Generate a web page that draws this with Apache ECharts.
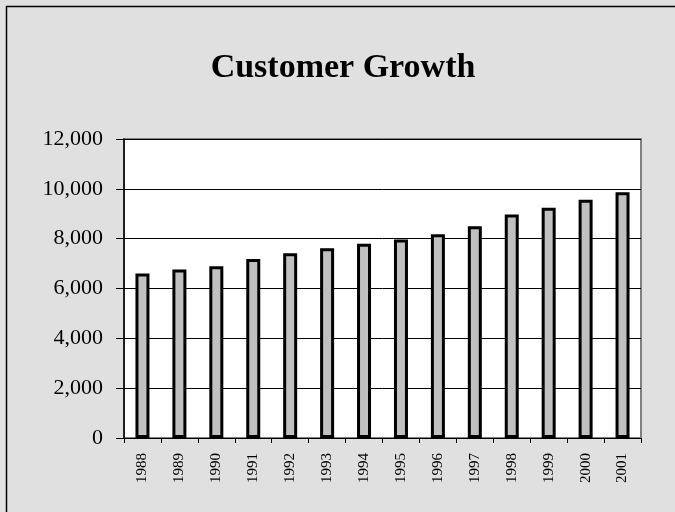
<!DOCTYPE html>
<html>
<head>
<meta charset="utf-8">
<script src="https://cdn.jsdelivr.net/npm/echarts@6/dist/echarts.min.js"></script>
<style>
  html, body { margin: 0; padding: 0; background: #e0e0e0; }
  #chart { width: 675px; height: 512px; }
</style>
</head>
<body>
<div id="chart"></div>
<script>
const years = ["1988", "1989", "1990", "1991", "1992", "1993", "1994",
  "1995", "1996", "1997", "1998", "1999", "2000", "2001"];
const customers = [6600, 6760, 6890, 7180, 7410, 7620, 7800,
  7970, 8180, 8500, 8970, 9240, 9560, 9860];
const yMax = 12000;
const yStep = 2000;

const serif = "'Liberation Serif', 'Times New Roman', serif";

const chart = echarts.init(document.getElementById("chart"));

chart.setOption({
  backgroundColor: "#e0e0e0",
  animation: false,
  title: {
    text: "Customer Growth",
    left: 338,
    top: 46,
    textAlign: "center",
    textStyle: { fontFamily: serif, fontSize: 34, fontWeight: "bold", color: "#000" }
  },
  graphic: [
    {
      type: "rect",
      shape: { x: 6.5, y: 6.5, width: 700, height: 600 },
      style: { fill: null, stroke: "#000", lineWidth: 1.5 },
      silent: true
    }
  ],
  grid: {
    left: 124,
    right: 34,
    top: 139,
    bottom: 74,
    show: true,
    backgroundColor: "#fff",
    borderColor: "#808080",
    borderWidth: 2
  },
  xAxis: {
    type: "category",
    data: years,
    axisLine: { lineStyle: { color: "#000", width: 1 } },
    axisTick: { show: true, length: 5, lineStyle: { color: "#000" } },
    axisLabel: {
      rotate: 90,
      margin: 15,
      fontFamily: serif,
      fontSize: 15,
      color: "#000"
    }
  },
  yAxis: {
    type: "value",
    min: 0,
    max: yMax,
    interval: yStep,
    axisLine: { show: true, lineStyle: { color: "#000", width: 1.5 } },
    axisTick: { show: true, length: 8, lineStyle: { color: "#000" } },
    axisLabel: {
      margin: 21,
      fontFamily: serif,
      fontSize: 22,
      color: "#000",
      formatter: v => v.toLocaleString("en-US")
    },
    splitLine: { show: true, lineStyle: { color: "#000", width: 1 } }
  },
  series: [
    {
      type: "bar",
      data: customers,
      barWidth: 14,
      itemStyle: { color: "#c0c0c0", borderColor: "#000", borderWidth: 3 }
    }
  ]
});
</script>
</body>
</html>
